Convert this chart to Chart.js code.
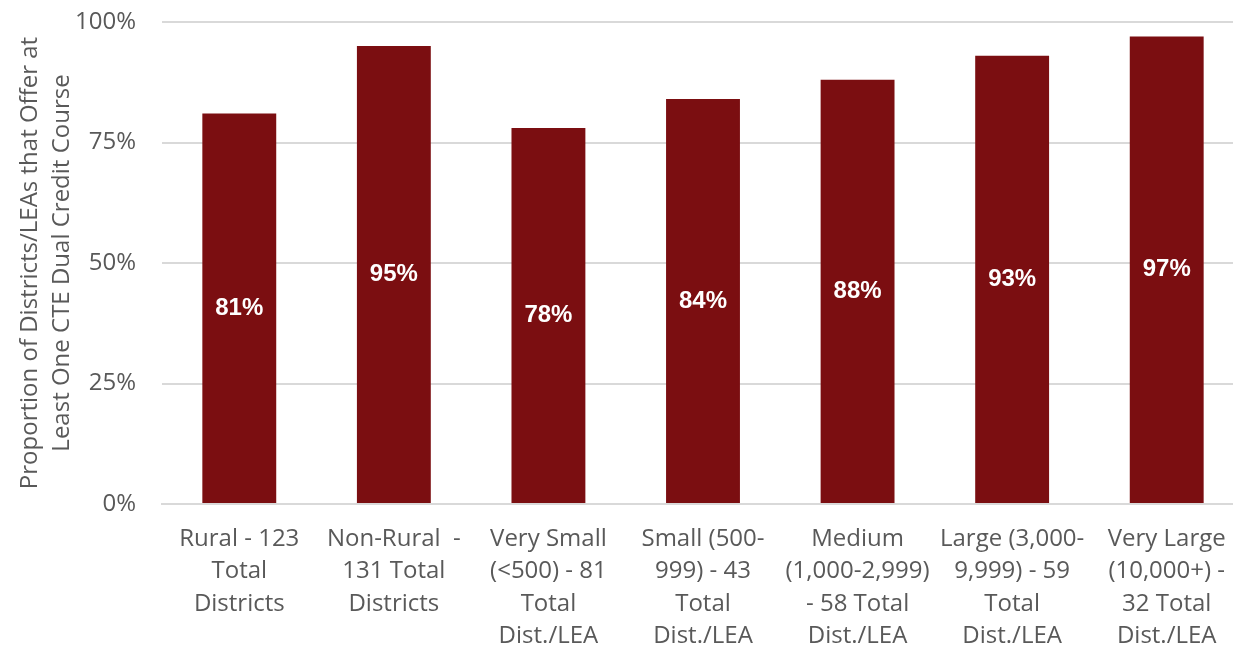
<!DOCTYPE html>
<html>
<head>
<meta charset="utf-8">
<script src="https://cdn.jsdelivr.net/npm/chart.js@4.4.0/dist/chart.umd.min.js"></script>
<style>
  html, body { margin: 0; padding: 0; background: #fff; overflow: hidden; }
  #wrap { width: 1244px; height: 645px; }
</style>
</head>
<body>
<div id="wrap"><canvas id="chart"></canvas></div>
<script>
// categories, shown as multi-line tick labels
const categories = [
    ['Rural - 123', 'Total', 'Districts'],
    ['Non-Rural  -', '131 Total', 'Districts'],
    ['Very Small', '(<500) - 81', 'Total', 'Dist./LEA'],
    ['Small (500-', '999) - 43', 'Total', 'Dist./LEA'],
    ['Medium', '(1,000-2,999)', '- 58 Total', 'Dist./LEA'],
    ['Large (3,000-', '9,999) - 59', 'Total', 'Dist./LEA'],
    ['Very Large', '(10,000+) -', '32 Total', 'Dist./LEA']
];
const offerShare = [81, 95, 78, 84, 88, 93, 97];
const yTicks = [0, 25, 50, 75, 100];
const axisTitle = ['Proportion of Districts/LEAs that Offer at', 'Least One CTE Dual Credit Course'];

const barColor = '#7b0e11';
const textGrey = '#595959';
const labelFont = "'Open Sans', 'Noto Sans', sans-serif";

// white value labels in the middle of each bar
const barLabels = {
    id: 'barLabels',
    afterDatasetsDraw(chart) {
        const ctx = chart.ctx;
        const meta = chart.getDatasetMeta(0);
        ctx.save();
        ctx.fillStyle = '#ffffff';
        ctx.font = "bold 24px 'Liberation Sans', Arial, sans-serif";
        ctx.textAlign = 'center';
        ctx.textBaseline = 'middle';
        meta.data.forEach((bar, i) => {
            const mid = (bar.y + bar.base) / 2;
            ctx.fillText(offerShare[i] + '%', bar.x, mid);
        });
        ctx.restore();
    }
};

new Chart(document.getElementById('chart'), {
    type: 'bar',
    data: {
        labels: categories,
        datasets: [{
            data: offerShare,
            backgroundColor: barColor,
            categoryPercentage: 1,
            barPercentage: 0.478
        }]
    },
    options: {
        responsive: true,
        maintainAspectRatio: false,
        animation: false,
        layout: { padding: { top: 22, right: 0, bottom: 0, left: 0 } },
        plugins: {
            legend: { display: false },
            tooltip: { enabled: false }
        },
        scales: {
            x: {
                grid: { display: false },
                border: { color: '#d9d9d9', width: 2 },
                ticks: {
                    color: textGrey,
                    font: { family: labelFont, size: 24, lineHeight: 1.35 },
                    maxRotation: 0,
                    autoSkip: false,
                    padding: 11
                },
                afterFit: s => {
                    s.height = 141;
                    s.paddingLeft = 0;
                    s.paddingRight = 0;
                }
            },
            y: {
                min: 0,
                max: 100,
                afterBuildTicks: axis => {
                    axis.ticks = yTicks.map(v => ({ value: v }));
                },
                afterFit: s => {
                    s.width = 162;
                    s.paddingTop = 0;
                    s.paddingBottom = 0;
                },
                grid: { color: '#d9d9d9', lineWidth: 2, drawTicks: false },
                border: { display: false },
                ticks: {
                    color: textGrey,
                    font: { family: labelFont, size: 24 },
                    padding: 26,
                    callback: v => v + '%'
                },
                title: {
                    display: true,
                    text: axisTitle,
                    color: textGrey,
                    font: { family: labelFont, size: 24, lineHeight: 1.35 },
                    padding: { top: 14, bottom: 0 }
                }
            }
        }
    },
    plugins: [barLabels]
});
</script>
</body>
</html>
